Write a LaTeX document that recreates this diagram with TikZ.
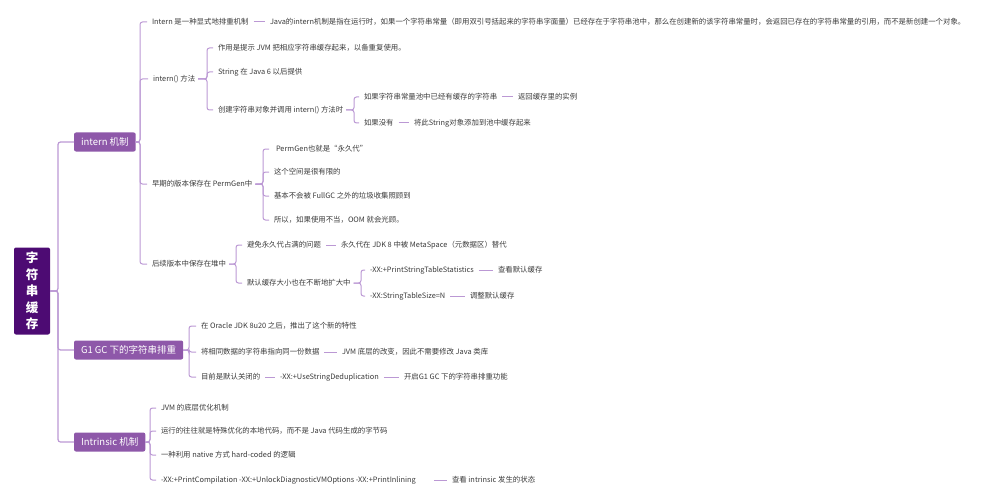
\documentclass[tikz,border=0pt]{standalone}
\usepackage{fontspec}
\setmainfont{Noto Sans CJK SC}
\definecolor{rootpurple}{HTML}{4D0B73}
\definecolor{topicpurple}{HTML}{8E58A9}
\definecolor{linkpurple}{HTML}{BB98D4}
\definecolor{textgray}{HTML}{3A3A3A}
\tikzset{
  rootbox/.style={fill=rootpurple, rounded corners=2pt, minimum width=36pt, minimum height=87pt, inner sep=0pt, text=white, align=center, font=\fontsize{12.5}{16.5}\selectfont\bfseries},
  topic/.style={anchor=west, fill=topicpurple, rounded corners=2pt, text=white, font=\fontsize{9.5}{11}\selectfont, minimum height=19pt, inner xsep=7pt, inner ysep=0pt, outer sep=0pt},
  txt/.style={anchor=west, inner xsep=0pt, inner ysep=1pt, outer xsep=3pt, yshift=-2pt, text=textgray, font=\fontsize{7.4}{9}\selectfont},
  link/.style={draw=linkpurple, line width=1pt, rounded corners=2.5pt},
  joiner/.style={draw=linkpurple, line width=1pt, shorten <=2pt, shorten >=2pt}
}
\begin{document}
\begin{tikzpicture}[x=1pt, y=-1pt]
\useasboundingbox (0,0) rectangle (982,500);
\node[rootbox] (r) at (32,291) {字\\符\\串\\缓\\存};
\node[topic] (n1) at (74,142) {intern 机制};
\node[topic] (n2) at (74,350) {G1 GC 下的字符串排重};
\node[topic] (n3) at (74,442) {Intrinsic 机制};
\coordinate (t0) at (58,0);
\coordinate (t1) at (140,0);
\coordinate (t2) at (207,0);
\coordinate (t3) at (354,0);
\coordinate (t4) at (263,0);
\coordinate (t5) at (236,0);
\coordinate (t6) at (361,0);
\coordinate (t7) at (189,0);
\coordinate (t8) at (150,0);
\draw[link, line width=1.2pt](r.east) -- (r.east -| t0) |- (n1.west);
\draw[link, line width=1.2pt](r.east) -- (r.east -| t0) |- (n2.west);
\draw[link, line width=1.2pt](r.east) -- (r.east -| t0) |- (n3.west);
\node[txt] (a1) at (149,20) {Intern 是一种显式地排重机制};
\node[txt] (a1b) at (267,20) {Java的intern机制是指在运行时，如果一个字符串常量（即用双引号括起来的字符串字面量）已经存在于字符串池中，那么在创建新的该字符串常量时，会返回已存在的字符串常量的引用，而不是新创建一个对象。};
\draw[joiner](a1) -- (a1b);
\node[txt] (a2) at (150,77) {intern() 方法};
\node[txt] (a21) at (215,46) {作用是提示 JVM 把相应字符串缓存起来，以备重复使用。};
\node[txt] (a22) at (215,70) {String 在 Java 6 以后提供};
\node[txt] (a23) at (215,108) {创建字符串对象并调用 intern() 方法时};
\node[txt] (a231) at (361,95) {如果字符串常量池中已经有缓存的字符串};
\node[txt] (a232) at (515,95) {返回缓存里的实例};
\draw[joiner](a231) -- (a232);
\node[txt] (a233) at (361,121) {如果没有};
\node[txt] (a234) at (411,121) {将此String对象添加到池中缓存起来};
\draw[joiner](a233) -- (a234);
\node[txt] (a3) at (149,182) {早期的版本保存在 PermGen中};
\node[txt] (a31) at (273,147) {PermGen也就是“永久代”};
\node[txt] (a32) at (271,170) {这个空间是很有限的};
\node[txt] (a33) at (271,194) {基本不会被 FullGC 之外的垃圾收集照顾到};
\node[txt] (a34) at (271,218) {所以，如果使用不当，OOM 就会光顾。};
\node[txt] (a4) at (149,262) {后续版本中保存在堆中};
\node[txt] (a41) at (244,243) {避免永久代占满的问题};
\node[txt] (a42) at (338,243) {永久代在 JDK 8 中被 MetaSpace（元数据区）替代};
\draw[joiner](a41) -- (a42);
\node[txt] (a43) at (244,281) {默认缓存大小也在不断地扩大中};
\node[txt] (a431) at (367,268) {-XX:+PrintStringTableStatistics};
\node[txt] (a432) at (495,268) {查看默认缓存};
\draw[joiner](a431) -- (a432);
\node[txt] (a433) at (367,294) {-XX:StringTableSize=N};
\node[txt] (a434) at (467,294) {调整默认缓存};
\draw[joiner](a433) -- (a434);
\draw[link](n1.east) -- (n1.east -| t1) |- ([xshift=-2pt]a1.west);
\draw[link](n1.east) -- (n1.east -| t1) |- ([xshift=-2pt]a2.west);
\draw[link](n1.east) -- (n1.east -| t1) |- ([xshift=-2pt]a3.west);
\draw[link](n1.east) -- (n1.east -| t1) |- ([xshift=-2pt]a4.west);
\draw[link](a2.east) -- (a2.east -| t2) |- ([xshift=-2pt]a21.west);
\draw[link](a2.east) -- (a2.east -| t2) |- ([xshift=-2pt]a22.west);
\draw[link](a2.east) -- (a2.east -| t2) |- ([xshift=-2pt]a23.west);
\draw[link](a23.east) -- (a23.east -| t3) |- ([xshift=-2pt]a231.west);
\draw[link](a23.east) -- (a23.east -| t3) |- ([xshift=-2pt]a233.west);
\draw[link](a3.east) -- (a3.east -| t4) |- ([xshift=-4pt]a31.west);
\draw[link](a3.east) -- (a3.east -| t4) |- ([xshift=-2pt]a32.west);
\draw[link](a3.east) -- (a3.east -| t4) |- ([xshift=-2pt]a33.west);
\draw[link](a3.east) -- (a3.east -| t4) |- ([xshift=-2pt]a34.west);
\draw[link](a4.east) -- (a4.east -| t5) |- ([xshift=-2pt]a41.west);
\draw[link](a4.east) -- (a4.east -| t5) |- ([xshift=-2pt]a43.west);
\draw[link](a43.east) -- (a43.east -| t6) |- ([xshift=-2pt]a431.west);
\draw[link](a43.east) -- (a43.east -| t6) |- ([xshift=-2pt]a433.west);
\node[txt] (b1) at (198,324) {在 Oracle JDK 8u20 之后，推出了这个新的特性};
\node[txt] (b2) at (198,350) {将相同数据的字符串指向同一份数据};
\node[txt] (b3) at (339,350) {JVM 底层的改变，因此不需要修改 Java 类库};
\draw[joiner](b2) -- (b3);
\node[txt] (b4) at (198,375) {目前是默认关闭的};
\node[txt] (b5) at (277,375) {-XX:+UseStringDeduplication};
\node[txt] (b6) at (401,375) {开启G1 GC 下的字符串排重功能};
\draw[joiner](b4) -- (b5);
\draw[joiner](b5) -- (b6);
\draw[link](n2.east) -- (n2.east -| t7) |- ([xshift=-2pt]b1.west);
\draw[link](n2.east) -- (n2.east -| t7) |- ([xshift=-2pt]b2.west);
\draw[link](n2.east) -- (n2.east -| t7) |- ([xshift=-2pt]b4.west);
\node[txt] (c1) at (158,406) {JVM 的底层优化机制};
\node[txt] (c2) at (158,429) {运行的往往就是特殊优化的本地代码，而不是 Java 代码生成的字节码};
\node[txt] (c3) at (158,453) {一种利用 native 方式 hard-coded 的逻辑};
\node[txt] (c4) at (158,478) {-XX:+PrintCompilation -XX:+UnlockDiagnosticVMOptions -XX:+PrintInlining};
\node[txt] (c5) at (449,478) {查看 intrinsic 发生的状态};
\draw[joiner, shorten <=15pt](c4) -- (c5);
\draw[link](n3.east) -- (n3.east -| t8) |- ([xshift=-2pt]c1.west);
\draw[link](n3.east) -- (n3.east -| t8) |- ([xshift=-2pt]c2.west);
\draw[link](n3.east) -- (n3.east -| t8) |- ([xshift=-2pt]c3.west);
\draw[link](n3.east) -- (n3.east -| t8) |- ([xshift=-2pt]c4.west);
\end{tikzpicture}
\end{document}
